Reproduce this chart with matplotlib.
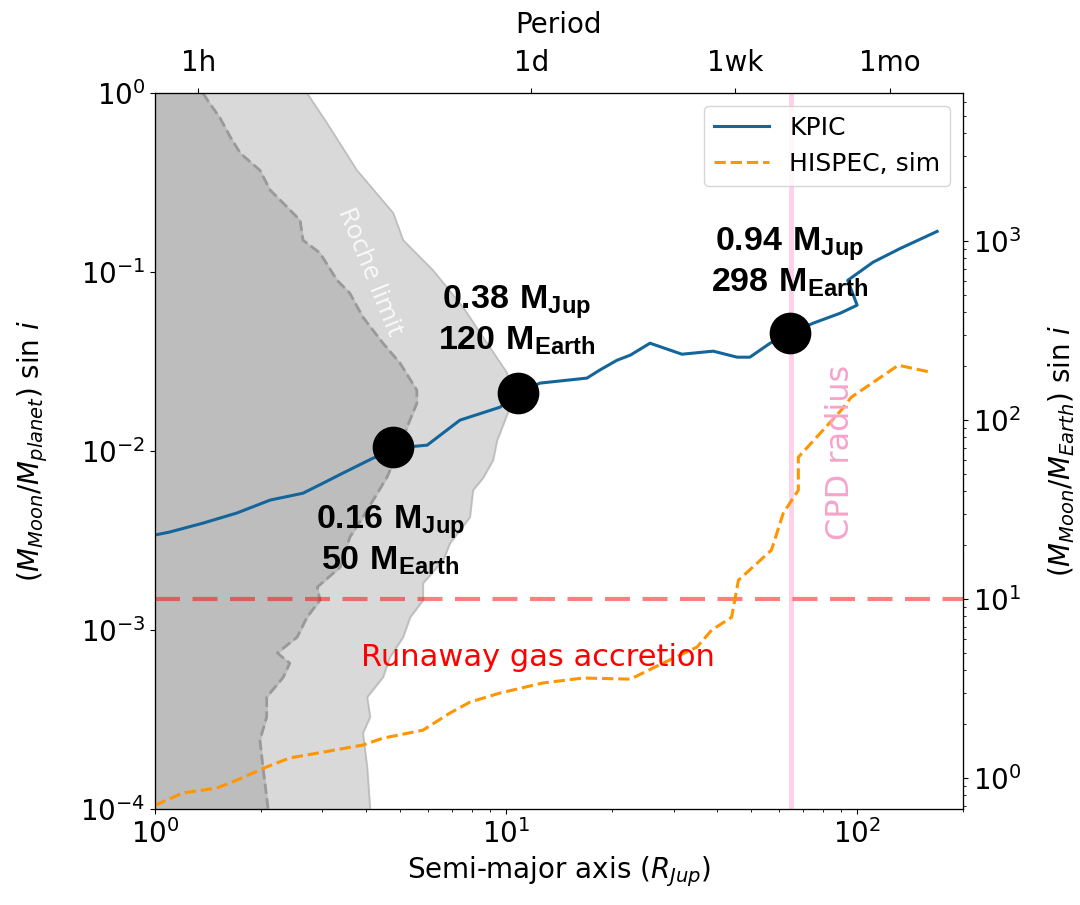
import numpy as np
import matplotlib
matplotlib.use("Agg")
import matplotlib.pyplot as plt

plt.rcParams['mathtext.fontset'] = 'custom'
plt.rcParams['mathtext.rm'] = 'DejaVu Sans'
plt.rcParams['mathtext.it'] = 'DejaVu Sans:italic'
plt.rcParams['mathtext.bf'] = 'Liberation Sans:weight=bold:stretch=normal'

# Roche limit zones (x = semi-major axis in R_Jup, y = mass ratio)
outer_y = [1.0, 0.68, 0.371, 0.214, 0.151, 0.1026, 0.0637, 0.0401, 0.0273, 0.0176,
           0.0115, 0.0089, 0.0071, 0.00605, 0.00428, 0.00306, 0.00246, 0.00183,
           0.00147, 0.00118, 0.000914, 0.000707, 0.000546, 0.000422, 0.000327,
           0.000266, 0.000172, 0.0001]
outer_x = [2.71, 3.09, 3.76, 4.77, 5.09, 6.19, 7.54, 8.83, 10.07, 10.26,
           9.43, 9.18, 8.6, 8.05, 7.89, 6.92, 6.62, 5.80,
           5.80, 5.33, 5.09, 4.67, 4.46, 4.02, 4.10,
           3.91, 4.02, 4.10]
inner_y = [1.0, 0.88, 0.73, 0.568, 0.462, 0.371, 0.287, 0.231, 0.195, 0.151,
           0.128, 0.0902, 0.0763, 0.0561, 0.0401, 0.031, 0.0219, 0.0185, 0.0136,
           0.0105, 0.00716, 0.00428, 0.00331, 0.00225, 0.00174, 0.00147, 0.00118,
           0.000914, 0.000745, 0.000654, 0.000546, 0.000422, 0.000327, 0.000243,
           0.000172, 0.0001]
inner_x = [1.37, 1.43, 1.53, 1.64, 1.75, 1.99, 2.13, 2.38, 2.59, 2.64,
           2.95, 3.30, 3.59, 3.91, 4.46, 4.99, 5.57, 5.57, 5.22,
           4.99, 4.58, 3.91, 3.59, 3.37, 2.90, 2.95, 2.71,
           2.54, 2.23, 2.42, 2.32, 2.08, 2.08, 1.99,
           2.03, 2.10]

# KPIC sensitivity
kpic_a = [1.0, 1.10, 1.37, 1.71, 2.13, 2.64, 3.01, 3.43, 4.18, 5.09, 5.96, 7.39,
          9.61, 10.75, 12.5, 17.0, 18.5, 20.7, 22.6, 25.7, 31.7, 38.9, 45.5, 49.5,
          56.5, 64.4, 75, 89.5, 100, 94, 111, 133, 169]
kpic_m = [0.0034, 0.00353, 0.00396, 0.00451, 0.00533, 0.00582, 0.00662, 0.00754,
          0.00914, 0.0105, 0.0108, 0.0149, 0.0176, 0.0211, 0.024, 0.0256, 0.0284,
          0.0322, 0.0344, 0.0401, 0.0348, 0.0362, 0.0335, 0.0335, 0.0401, 0.0456,
          0.0519, 0.059, 0.0654, 0.090, 0.1137, 0.136, 0.169]

# HISPEC simulated sensitivity
hispec_a = [1.0, 1.20, 1.50, 1.71, 2.08, 2.42, 3.01, 3.91, 4.46, 5.80, 6.92, 7.89,
            9.61, 12.7, 16.6, 22.6, 28.0, 35.0, 38.5, 43.9, 45.9, 57.0, 61.6,
            68.0, 68.0, 90.1, 96.2, 131, 162]
hispec_m = [1.05e-4, 1.23e-4, 1.31e-4, 1.45e-4, 1.72e-4, 1.93e-4, 2.08e-4, 2.28e-4,
            2.49e-4, 2.76e-4, 3.44e-4, 3.96e-4, 4.45e-4, 5.06e-4, 5.40e-4, 5.32e-4,
            6.54e-4, 8.04e-4, 1.0e-3, 1.18e-3, 1.90e-3, 2.80e-3, 4.5e-3,
            6.05e-3, 9.25e-3, 0.01695, 0.020, 0.0302, 0.0276]

# highlighted planets
pt_a = [4.77, 10.8, 64.4]
pt_m = [0.0105, 0.0211, 0.0456]
pt_labels = [r'$\mathbf{0.16\ M_{Jup}}$' + '\n' + r'$\mathbf{50\ M_{Earth}}$',
             r'$\mathbf{0.38\ M_{Jup}}$' + '\n' + r'$\mathbf{120\ M_{Earth}}$',
             r'$\mathbf{0.94\ M_{Jup}}$' + '\n' + r'$\mathbf{298\ M_{Earth}}$']
pt_offsets = [(-3, -93), (-1, 73), (0, 71)]

cpd_radius = 64.9
runaway_mass_earth = 10.0
planet_mass_earth = 6700.0   # conversion factor for the right axis

period_labels = ['1h', '1d', '1wk', '1mo']
period_a = [1.33, 11.8, 45.0, 124.0]

fig = plt.figure(figsize=(10.8, 9.05), dpi=100)
ax = fig.add_axes([0.1435, 0.106, 0.748, 0.791])

# shaded Roche regions
ax.fill_betweenx(outer_y, 0.5, outer_x, color='#d9d9d9', zorder=0)
ax.plot(outer_x, outer_y, color='#bdbdbd', lw=1.2, zorder=0.5)
ax.fill_betweenx(inner_y, 0.5, inner_x, color='#bdbdbd', zorder=1)
ax.plot(inner_x, inner_y, color='#999999', lw=2, ls='--', zorder=1.5)

ax.axvline(cpd_radius, color='hotpink', alpha=0.3, lw=3.5, zorder=2)
ax.axhline(runaway_mass_earth / planet_mass_earth, color='red', alpha=0.5, lw=3,
           dashes=(6, 3), zorder=2)

ax.plot(kpic_a, kpic_m, color='#14659a', lw=2.2, label='KPIC', zorder=3)
ax.plot(hispec_a, hispec_m, color='#ff9500', lw=2.2, ls='--', label='HISPEC, sim', zorder=3)

ax.plot(pt_a, pt_m, 'o', color='black', ms=29, zorder=4)
for a, m, lab, off in zip(pt_a, pt_m, pt_labels, pt_offsets):
    ax.annotate(lab, (a, m), xytext=off, textcoords='offset pixels',
                ha='center', va='center', multialignment='center',
                fontsize=24.5, linespacing=1.1, zorder=5)

ax.text(4.09, 0.1, 'Roche limit', rotation=-68, color='white', alpha=0.85,
        fontsize=19, family='Open Sans', ha='center', va='center', zorder=2)
ax.text(12.3, 7.07e-4, 'Runaway gas accretion', color='red', fontsize=22,
        ha='center', va='center', zorder=5)
ax.text(89.4, 0.0098, 'CPD radius', rotation=90, color='#f7a3cc', fontsize=23,
        ha='center', va='center', zorder=5)

ax.set_xscale('log')
ax.set_yscale('log')
ax.set_xlim(1, 200)
ax.set_ylim(1e-4, 1)
ax.tick_params(labelsize=20)
ax.set_xlabel(r'Semi-major axis ($R_{Jup}$)', fontsize=20)
ax.set_ylabel(r'$(M_{Moon}/M_{planet})$ sin $i$', fontsize=20, labelpad=22)

ax.legend(loc='upper right', fontsize=18, handlelength=2.2)

# right axis: moon mass in Earth masses
axr = ax.twinx()
axr.set_yscale('log')
axr.set_ylim(1e-4 * planet_mass_earth, 1 * planet_mass_earth)
axr.tick_params(labelsize=20)
axr.set_ylabel(r'$(M_{Moon}/M_{Earth})$ sin $i$', fontsize=20, labelpad=18)

# top axis: orbital period
axt = ax.twiny()
axt.set_xscale('log')
axt.set_xlim(ax.get_xlim())
axt.set_xticks(period_a)
axt.set_xticklabels(period_labels)
axt.minorticks_off()
axt.tick_params(labelsize=20, pad=8)
axt.set_xlabel('Period', fontsize=20, labelpad=12)

fig.savefig('out.png', dpi=100)
